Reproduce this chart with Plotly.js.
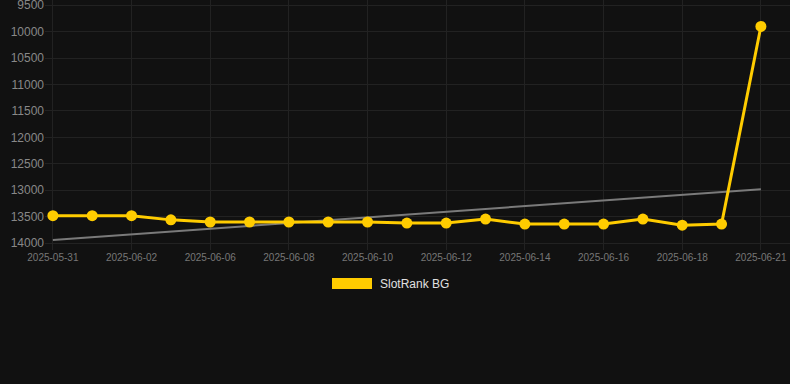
<!DOCTYPE html>
<html>
<head>
<meta charset="utf-8">
<script src="https://cdn.plot.ly/plotly-3.0.1.min.js"></script>
<style>
html,body{margin:0;padding:0;background:#111111;}
#chart{width:790px;height:384px;}
</style>
</head>
<body>
<div id="chart"></div>
<script>
const dates = ["2025-05-31","2025-06-01","2025-06-02","2025-06-04","2025-06-06","2025-06-07","2025-06-08","2025-06-09","2025-06-10","2025-06-11","2025-06-12","2025-06-13","2025-06-14","2025-06-15","2025-06-16","2025-06-17","2025-06-18","2025-06-20","2025-06-21"];
const rankValues = [13480,13480,13480,13560,13600,13600,13600,13600,13600,13620,13620,13545,13640,13640,13640,13545,13660,13640,9900];
const trendDates = ["2025-05-31","2025-06-21"];
const trendValues = [13940,12980];
const tickLabels = ["2025-05-31","2025-06-02","2025-06-06","2025-06-08","2025-06-10","2025-06-12","2025-06-14","2025-06-16","2025-06-18","2025-06-21"];
const yTicks = [9500,10000,10500,11000,11500,12000,12500,13000,13500,14000];
const seriesName = "SlotRank BG";

const yellow = "#ffcc00";

const traces = [
  {
    x: trendDates, y: trendValues, type: "scatter", mode: "lines",
    line: {color: "#7a7a7a", width: 2}, hoverinfo: "skip", showlegend: false
  },
  {
    x: dates, y: rankValues, type: "scatter", mode: "lines+markers", name: seriesName,
    line: {color: yellow, width: 3}, marker: {color: yellow, size: 11}, showlegend: false
  }
];

const layout = {
  width: 790, height: 384,
  margin: {l: 45, r: 0, t: 0, b: 134},
  paper_bgcolor: "#111111", plot_bgcolor: "#111111",
  font: {family: "Liberation Sans, Arial, sans-serif"},
  xaxis: {
    type: "category", categoryorder: "array", categoryarray: dates,
    range: [-0.2, 18.74],
    tickmode: "array", tickvals: tickLabels, ticktext: tickLabels,
    showgrid: true, gridcolor: "#222222", gridwidth: 1,
    zeroline: false, showline: false, ticks: "",
    tickfont: {size: 10, color: "#777777"}, tickangle: 0
  },
  yaxis: {
    range: [14130, 9400],
    tickmode: "array", tickvals: yTicks, ticktext: yTicks.map(String),
    ticklabeloverflow: "allow",
    showgrid: true, gridcolor: "#222222", gridwidth: 1,
    zeroline: false, showline: false, ticks: "",
    tickfont: {size: 12, color: "#888888"}
  },
  showlegend: false,
  shapes: [
    {type: "rect", xref: "paper", yref: "paper",
     x0: (332-45)/745, x1: (372-45)/745, y0: (250-289)/250, y1: (250-278)/250,
     fillcolor: yellow, line: {width: 0}}
  ],
  annotations: [
    {xref: "paper", yref: "paper", x: (378-45)/745, y: (250-284)/250,
     xanchor: "left", yanchor: "middle", showarrow: false,
     text: seriesName, font: {size: 12, color: "#e0e0e0"}}
  ]
};

Plotly.newPlot("chart", traces, layout, {displayModeBar: false, staticPlot: true});
</script>
</body>
</html>
